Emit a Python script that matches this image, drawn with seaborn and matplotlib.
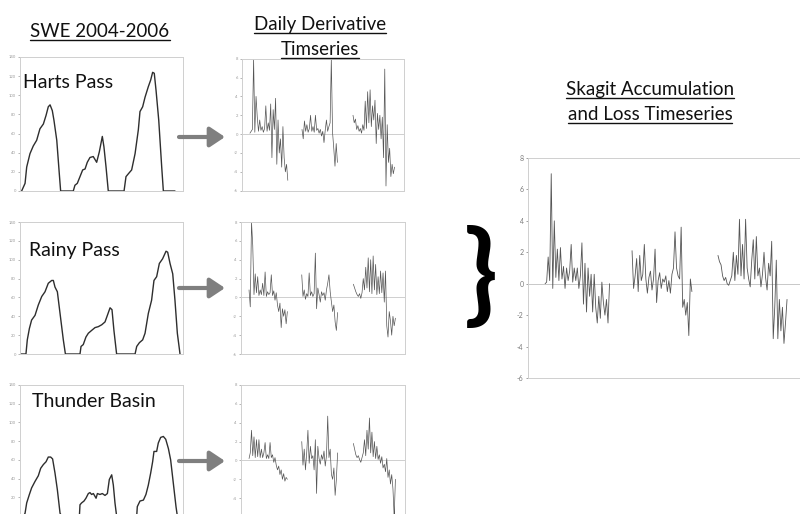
import numpy as np
import pandas as pd
import matplotlib
matplotlib.use("Agg")
import matplotlib.pyplot as plt
from matplotlib.lines import Line2D
import seaborn as sns

# ---------------- data ----------------
stations = ["Harts Pass", "Rainy Pass", "Thunder Basin"]

harts_swe_day = [11, 34, 45, 67, 89, 112, 134, 157, 175, 190, 202, 217, 228, 247, 264, 273,
                 358, 369, 385, 403, 421, 437, 452, 470, 492, 515, 533, 553, 564, 578, 593,
                 699, 712, 728, 750, 773, 795, 806, 824, 840, 862, 878, 891, 902, 914, 932, 952, 963,
                 1041]
harts_swe = [0, 8, 25, 39, 47, 53, 65, 70, 79, 88, 90, 84, 74, 53, 18, 0,
             0, 6, 8, 15, 22, 23, 30, 35, 36, 30, 41, 57, 46, 25, 0,
             0, 15, 18, 22, 39, 64, 83, 88, 98, 109, 116, 124, 123, 105, 74, 25, 0,
             0]

rainy_swe_day = [0, 40, 49, 63, 78, 101, 123, 146, 168, 190, 213, 224, 235, 251, 269, 291, 305,
                 403, 410, 425, 443, 459, 481, 504, 526, 549, 571, 587, 605, 618, 631, 649,
                 773, 784, 802, 824, 840, 862, 884, 900, 918, 936, 958, 981, 992, 1008, 1026, 1041, 1057, 1075]
rainy_swe = [0, 0, 15, 27, 36, 41, 52, 61, 66, 75, 78, 78, 71, 66, 43, 15, 0,
             0, 8, 10, 18, 22, 25, 28, 29, 31, 34, 41, 49, 47, 25, 0,
             0, 8, 12, 15, 22, 43, 57, 78, 82, 96, 101, 109, 108, 96, 85, 57, 22, 0]

thunder_swe_day = [25, 34, 45, 63, 78, 101, 123, 139, 157, 175, 190, 206, 219, 235, 251, 269, 280,
                   399, 403, 414, 430, 443, 459, 470, 481, 493, 511, 520, 537, 553, 571, 587, 600, 616, 627, 638, 649,
                   784, 788, 806, 829, 846, 862, 878, 891, 900, 918, 929, 945, 963, 979, 997, 1012, 1030, 1048, 1057]
thunder_swe = [0, 3, 14, 23, 30, 37, 43, 51, 55, 58, 63, 63, 61, 46, 28, 3, 0,
               0, 12, 14, 16, 19, 24, 25, 23, 24, 19, 24, 23, 24, 22, 24, 39, 44, 33, 14, 0,
               0, 10, 16, 17, 23, 33, 46, 58, 69, 69, 78, 84, 85, 82, 72, 60, 35, 10, 0]

# daily-derivative samples per season (start day of each season, sample step in days)
season_start = [13, 354, 688]
deriv_step = 8

harts_d1 = [0.1, 0.3, 0.5, 8.0, 0.2, 4.0, 1.8, 0.3, 1.5, 0.4, 0.8, 0.2, 0.6, 3.0, 0.3, 1.2,
            0.4, 3.2, -2.5, 2.6, 0.5, 3.8, -3.2, 1.5, -2.0, -0.5, -3.5, 0.8, -2.5, -4.0, -3.2, -4.9]
harts_d2 = [0.5, -0.5, 1.4, 0.3, 1.0, 0.2, 0.6, 2.0, 0.3, 0.8, 0.2, 2.0, 0.4, 0.6, 0.1, 0.5,
            -0.2, 0.3, -0.9, 0.4, 1.5, 0.3, 0.8, 1.2, 8.0, 0.2, -1.5, -3.4, -1.0, -3.0]
harts_d3 = [2.0, 1.2, 1.6, 0.5, 0.9, 0.3, 0.6, 0.1, 1.0, 0.4, 3.5, 0.6, 4.5, 1.2, 4.7, 0.8,
            3.0, 1.5, 3.6, -1.0, 2.2, 0.5, 2.0, -0.5, 1.8, -2.5, 6.9, -5.5, 1.0, -3.0, -1.5,
            -4.5, -3.2, -4.2, -3.5]

rainy_d1 = [0.8, -1.0, 8.0, 5.5, 0.3, 2.5, 0.5, 2.2, 0.2, 0.8, 0.3, 1.5, 0.2, 2.7, 0.1, 0.6,
            0.3, 0.5, 2.4, 0.2, 0.7, -0.3, 0.5, -0.8, -1.5, -0.6, -3.2, -1.2, -2.0, -1.3, -2.8, -1.5]
rainy_d2 = [2.4, 0.1, 0.8, -0.2, 0.4, 0.1, 2.6, 0.2, 0.6, 0.1, 0.4, 4.7, -1.2, 1.0, 0.3, -0.5,
            0.6, 0.2, 0.5, -0.3, 0.8, 1.5, 2.4, 0.6, -0.5, -1.5, -0.8, -2.6, -3.5, -1.6]
rainy_d3 = [1.4, 1.0, 0.6, 0.3, 0.1, 0.4, -0.1, 0.5, 2.0, 0.8, 3.2, 1.0, 4.2, 0.6, 4.0, 0.4,
            4.4, 0.8, 3.5, 0.3, 2.2, 0.4, 2.8, 0.5, 2.6, -0.5, 2.8, -3.0, -4.2, -1.5, -2.5,
            -4.0, -2.0, -3.0, -2.2]

thunder_d1 = [0.2, 0.8, 3.2, 0.5, 2.5, 0.3, 2.2, 0.4, 2.2, 0.3, 1.2, 0.3, 0.8, 1.9, 0.2, 0.6,
              0.2, 1.9, 0.3, 0.6, -0.2, 0.3, -0.5, -1.0, -0.6, -1.5, -1.0, -2.0, -1.4, -2.2, -1.8, -2.0]
thunder_d2 = [2.0, -0.5, 1.2, -1.0, 0.8, 3.2, -0.3, 1.5, 0.2, 0.5, -1.0, 2.2, -3.5, 1.5, 0.2, -0.4,
              0.6, 0.1, 1.0, -0.6, 0.5, 4.7, 0.3, 1.2, -1.5, -2.0, -0.8, -3.7, -2.0, 0.8]
thunder_d3 = [1.8, 1.2, 0.6, 0.3, 0.5, 0.1, -0.2, 0.3, 0.8, 2.2, 0.5, 3.2, 1.2, 4.5, 0.8, 3.0,
              0.4, 2.0, 0.2, 1.5, 0.1, 0.6, -0.3, 0.4, -0.8, -0.4, -1.2, 0.2, -1.8, -1.0, -2.5,
              -1.5, -3.0, -6.0, -2.0]

skagit_start = [13, 353, 689]
skagit_step = 6
skagit_d1 = [0.0, 0.1, 1.7, 0.2, 7.0, -0.3, 4.0, 0.4, 2.2, 0.2, 2.3, 0.3, 1.1, -0.3, 1.0, 0.2,
             0.8, 2.5, 0.1, 1.0, 0.2, 1.0, -0.3, 0.5, 2.6, -1.3, 1.3, -1.8, 1.0, -0.8, 0.6,
             -1.8, 0.6, -1.5, -2.5, -0.8, -2.2, 0.1, -1.2, -2.0, -1.0, -2.5, 0.0]
skagit_d2 = [2.1, -0.3, 0.5, 1.6, -0.5, 1.8, 0.2, 0.6, 2.5, 0.3, -0.6, 0.4, 0.8, -0.4, 0.3, 2.2,
             -1.2, 0.2, 0.7, -0.3, 0.3, 0.1, 0.5, -0.5, 0.2, -0.6, 0.6, 1.0, 3.3, 1.0, 0.5,
             0.3, 3.6, -1.5, -1.0, -2.0, -1.2, -3.3, 0.3, -0.5]
skagit_d3 = [1.8, 1.4, 1.2, 0.5, 0.2, 0.4, 0.0, -0.1, 0.2, 0.5, 2.0, 0.2, 1.8, 0.6, 4.1, 0.5,
             2.5, 0.3, 4.1, 1.0, 0.3, -0.2, 1.5, 2.8, 0.3, 3.0, 0.5, 1.0, -0.2, 0.6, 2.0,
             0.4, -0.4, 1.3, 0.5, 2.7, -3.5, -1.5, 1.5, -3.5, -1.0, -3.0, -1.5, -3.8, -2.5, -1.0]

swe_ticks = [0, 20, 40, 60, 80, 100, 120, 140]
deriv_ticks = [-6, -4, -2, 0, 2, 4, 6, 8]

# ---------------- style ----------------
sns.set_style("white")
plt.rcParams['font.family'] = ['Lato', 'DejaVu Sans']

W, H = 800, 514
fig = plt.figure(figsize=(8, 5.14), dpi=100)


def box(x0, y0, x1, y1):
    return [x0 / W, 1 - y1 / H, (x1 - x0) / W, (y1 - y0) / H]


def style_axes(ax, ticks, labelsize, tcolor):
    for s in ax.spines.values():
        s.set_color('#cfcfcf')
        s.set_linewidth(0.7)
    ax.set_yticks(ticks)
    ax.set_yticklabels([str(t) for t in ticks])
    ax.set_xticks([])
    ax.tick_params(axis='y', labelsize=labelsize, colors=tcolor, length=1.5, width=0.5, pad=1.5,
                   left=True)
    ax.set_xlabel('')
    ax.set_ylabel('')


def deriv_frame(seasons, starts, step):
    rows = []
    for k, (vals, st) in enumerate(zip(seasons, starts)):
        for i, v in enumerate(vals):
            rows.append((st + step * i, v, k))
    return pd.DataFrame(rows, columns=['day', 'value', 'season'])


swe_sets = [(harts_swe_day, harts_swe), (rainy_swe_day, rainy_swe), (thunder_swe_day, thunder_swe)]
deriv_sets = [(harts_d1, harts_d2, harts_d3), (rainy_d1, rainy_d2, rainy_d3),
              (thunder_d1, thunder_d2, thunder_d3)]

swe_boxes = [(20, 57, 183, 191), (20, 222, 183, 354), (20, 385, 183, 516)]
der_boxes = [(242, 58.7, 404, 190.7), (241, 222, 405, 354), (241, 385, 405, 517)]

for k, ((days, vals), bx) in enumerate(zip(swe_sets, swe_boxes)):
    ax = fig.add_axes(box(*bx))
    sns.lineplot(x=days, y=vals, ax=ax, color='#2e2e2e', linewidth=1.0, estimator=None,
                 sort=False, legend=False)
    ax.set_xlim(0, 1095)
    ax.set_ylim(0, 140)
    # bottom panel's lowest tick sits below the picture edge
    style_axes(ax, swe_ticks if k < 2 else swe_ticks[1:], 3, '#9a9a9a')

for k, (seasons, bx) in enumerate(zip(deriv_sets, der_boxes)):
    ax = fig.add_axes(box(*bx))
    df = deriv_frame(seasons, season_start, deriv_step)
    ax.axhline(0, color='#c8c8c8', lw=0.6, zorder=0)
    sns.lineplot(data=df, x='day', y='value', units='season', estimator=None, ax=ax,
                 color='#555555', linewidth=0.5, legend=False, sort=False)
    ax.set_xlim(-39, 1022)
    ax.set_ylim(-6, 8)
    style_axes(ax, deriv_ticks if k < 2 else deriv_ticks[1:], 3, '#9a9a9a')

# big Skagit panel
ax = fig.add_axes(box(527.7, 158, 830, 378))
df = deriv_frame((skagit_d1, skagit_d2, skagit_d3), skagit_start, skagit_step)
ax.axhline(0, color='#c8c8c8', lw=0.7, zorder=0)
sns.lineplot(data=df, x='day', y='value', units='season', estimator=None, ax=ax,
             color='#555555', linewidth=0.6, legend=False, sort=False)
ax.set_xlim(-55, 1127)
ax.set_ylim(-6, 8)
style_axes(ax, deriv_ticks, 5, '#7a7a7a')

# ---------------- overlay: text, arrows, brace ----------------
ov = fig.add_axes([0, 0, 1, 1], zorder=10)
ov.set_xlim(0, W)
ov.set_ylim(H, 0)
ov.axis('off')
ov.patch.set_alpha(0)

TFS = 13.5
texts = []
texts.append(ov.text(100, 37, "SWE 2004-2006", fontsize=TFS, ha='center', va='baseline', color='#111111'))
texts.append(ov.text(320, 30, "Daily Derivative", fontsize=TFS, ha='center', va='baseline', color='#111111'))
texts.append(ov.text(320, 55, "Timseries", fontsize=TFS, ha='center', va='baseline', color='#111111'))
texts.append(ov.text(650, 95, "Skagit Accumulation", fontsize=TFS, ha='center', va='baseline', color='#111111'))
texts.append(ov.text(650, 120, "and Loss Timeseries", fontsize=TFS, ha='center', va='baseline', color='#111111'))

fig.canvas.draw()
r = fig.canvas.get_renderer()
for t in texts:
    bb = t.get_window_extent(r)
    xb = t.get_position()[1]
    ov.add_line(Line2D([bb.x0, bb.x1], [xb + 3, xb + 3], color='#111111', lw=1.0))

label_pos = [(23, 88), (29, 256), (32, 407)]
for name, (x, y) in zip(stations, label_pos):
    ov.text(x, y, name, fontsize=14, ha='left', va='baseline', color='#111111')

for y in [137, 288, 461]:
    ov.annotate('', xy=(225, y), xytext=(179, y),
                arrowprops=dict(arrowstyle='-|>,head_width=0.4,head_length=0.6', lw=3,
                                color='#7f7f7f', mutation_scale=15, shrinkA=0, shrinkB=0))

ov.text(481, 278, '}', fontsize=80, fontweight='bold', ha='center', va='center', color='#000000')

fig.savefig('out.png', dpi=100)
